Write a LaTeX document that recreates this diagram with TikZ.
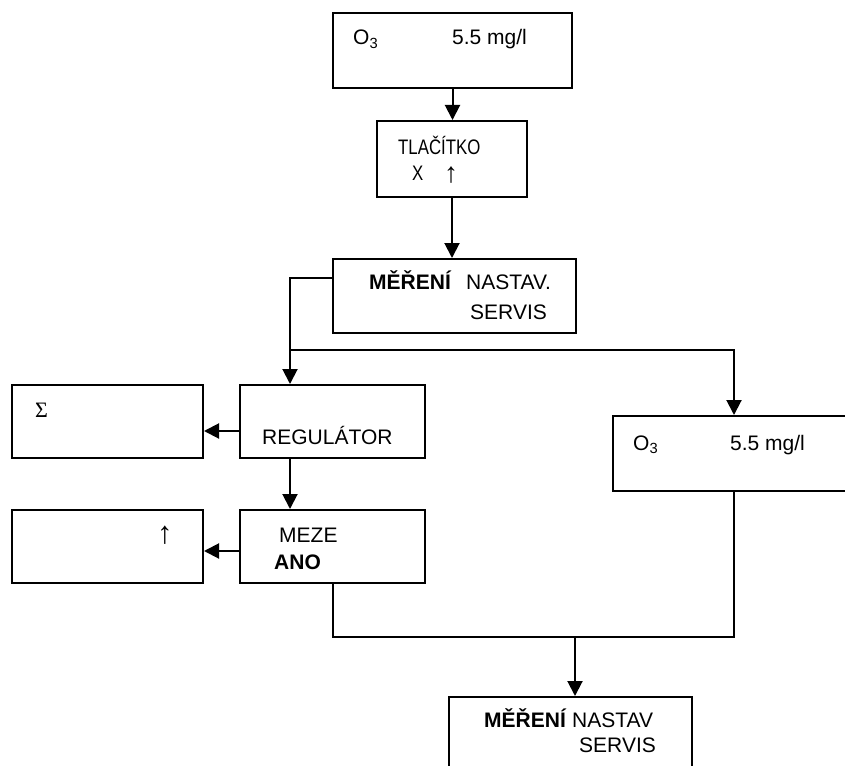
\documentclass[tikz,border=0pt]{standalone}
\usepackage{fontspec}
\setmainfont{Liberation Sans}
\newfontfamily\narrowfont[FakeStretch=0.8]{Liberation Sans}
\newfontfamily\seriffont{Liberation Serif}
\usetikzlibrary{arrows.meta}
\begin{document}
\begin{tikzpicture}[x=1pt,y=-1pt,
  box/.style={draw,line width=2pt,rectangle,inner sep=0pt},
  txt/.style={anchor=base west,inner sep=0pt,font=\fontsize{21}{25}\selectfont},
  narrowtxt/.style={txt,font=\narrowfont\fontsize{21}{25}\selectfont},
  conn/.style={line width=2pt},
  arr/.style={line width=2pt,-{Triangle[length=15pt,width=15pt]}}]
\useasboundingbox (0,0) rectangle (845,765);
\clip (0,0) rectangle (845,765);
% boxes
\node[box,minimum width=239pt,minimum height=75pt] (b1) at (452.5,50.5) {};
\node[box,minimum width=150pt,minimum height=76pt] (b2) at (452,159) {};
\node[box,minimum width=243pt,minimum height=74pt] (b3) at (454.5,296) {};
\node[box,minimum width=185pt,minimum height=73pt] (bR) at (332.5,421.5) {};
\node[box,minimum width=191pt,minimum height=73pt] (bS) at (107.5,421.5) {};
\node[box,minimum width=185pt,minimum height=73pt] (bM) at (332.5,546.5) {};
\node[box,minimum width=191pt,minimum height=73pt] (bU) at (107.5,546.5) {};
\node[box,minimum width=242pt,minimum height=75pt] (bO) at (734,453.5) {};
\node[box,minimum width=243pt,minimum height=90pt] (bB) at (570.5,742) {};
% texts
\node[txt] (t1a) at (353,45) {O\textsubscript{3}};
\node[txt] (t1b) at (452,45) {5.5 mg/l};
\node[narrowtxt] (t2a) at (398,154) {TLAČÍTKO};
\node[narrowtxt] (t2b) at (412,180) {X};
\node[txt,font=\fontsize{28}{32}\selectfont] (t2c) at (444,182) {↑};
\node[txt] (t3a) at (369,289) {\textbf{MĚŘENÍ}};
\node[txt] (t3b) at (466,289) {NASTAV.};
\node[txt] (t3c) at (470,319) {SERVIS};
\node[txt] (tR) at (262,444) {REGULÁTOR};
\node[txt,font=\seriffont\fontsize{22}{25}\selectfont] (tS) at (35,417) {Σ};
\node[txt,font=\fontsize{31}{35}\selectfont] (tU) at (157,543) {↑};
\node[txt] (tM1) at (279,542) {MEZE};
\node[txt] (tM2) at (274,569) {\textbf{ANO}};
\node[txt] (tOa) at (633,450) {O\textsubscript{3}};
\node[txt] (tOb) at (730,450) {5.5 mg/l};
\node[txt] (tBa) at (484,727) {\textbf{MĚŘENÍ} NASTAV};
\node[txt] (tBb) at (579,752) {SERVIS};
% junction coordinates
\coordinate (j1) at (290,278);
\coordinate (j2) at (290,350);
\coordinate (j3) at (734,350);
\coordinate (j4) at (333,637);
\coordinate (j5) at (734,637);
\coordinate (j6) at (575,637);
% connectors
\draw[arr] (b1.south) -- (b1.south |- b2.north);
\draw[arr] (b2.south) -- (b2.south |- b3.north);
\draw[arr] (b3.west |- j1) -- (j1) -- (j1 |- bR.north);
\draw[arr] (j2) -- (j3) -- (bO.north);
\draw[arr] (bR.west |- 0,431) -- (bS.east |- 0,431);
\draw[arr] (bR.south -| j1) -- (bM.north -| j1);
\draw[arr] (bM.west |- 0,551) -- (bU.east |- 0,551);
\draw[conn] (bM.south -| j4) -- (j4) -- (j5) -- (bO.south);
\draw[arr] (j6) -- (j6 |- bB.north);
\end{tikzpicture}
\end{document}
